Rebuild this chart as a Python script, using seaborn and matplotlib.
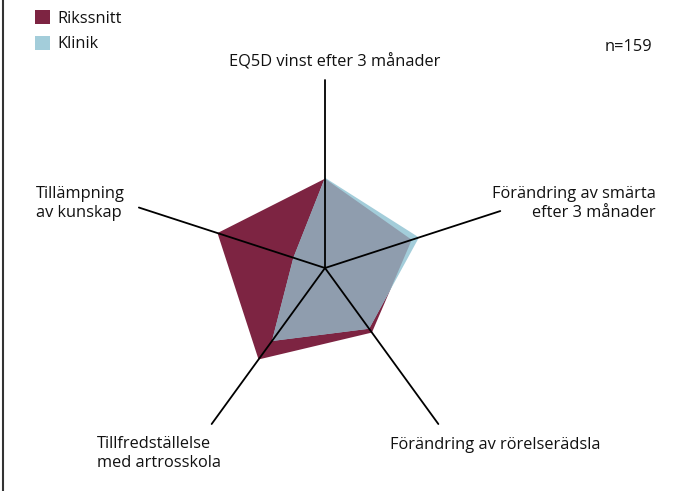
import numpy as np
import seaborn as sns
import matplotlib.pyplot as plt
from matplotlib.patches import Patch

# Data: axes clockwise from top, values on a 0-1 scale
categories = ["EQ5D vinst efter 3 månader",
              "Förändring av smärta\nefter 3 månader",
              "Förändring av rörelserädsla",
              "Tillfredställelse\nmed artrosskola",
              "Tillämpning\nav kunskap"]
rikssnitt = [0.47, 0.48, 0.42, 0.595, 0.595]
klinik = [0.475, 0.52, 0.395, 0.475, 0.175]
n_text = "n=159"

# Style
MAROON = "#7d2442"
LIGHTBLUE = "#a3cdda"
OVERLAP = "#8f9dae"
TEXT = "#111111"
FS = 11.8
spoke_len = [0.99, 0.97, 1.015, 1.015, 1.03]
# label anchor (x, y) in data units and alignment
label_pos = [(0.05, 1.085, "center", "center"),
             (1.74, 0.34, "right", "center"),
             (0.34, -0.93, "left", "center"),
             (-1.2, -0.975, "left", "center"),
             (-1.52, 0.34, "left", "center")]

sns.set_theme(style="white")
plt.rcParams["font.family"] = ["Open Sans", "DejaVu Sans"]

W, H, DPI = 674, 491, 100
fig = plt.figure(figsize=(W / DPI, H / DPI), dpi=DPI)
ax = fig.add_axes([0, 0, 1, 1])

scale = 190.0  # pixels per unit
cx, cy = 325, 268  # centre in pixels from top-left
ax.set_xlim(-cx / scale, (W - cx) / scale)
ax.set_ylim(-(H - cy) / scale, cy / scale)
ax.set_aspect("equal")
ax.axis("off")

angles = np.deg2rad(90 - 72 * np.arange(len(categories)))


def polygon(vals):
    v = np.asarray(vals)
    return v * np.cos(angles), v * np.sin(angles)


rx, ry = polygon(rikssnitt)
kx, ky = polygon(klinik)

riks_patch = ax.fill(rx, ry, color=MAROON, lw=0, zorder=1)[0]
ax.fill(kx, ky, color=LIGHTBLUE, lw=0, zorder=2)
over = ax.fill(kx, ky, color=OVERLAP, lw=0, zorder=3)[0]
over.set_clip_path(riks_patch)

# spokes
for a, L in zip(angles, spoke_len):
    ax.plot([0, L * np.cos(a)], [0, L * np.sin(a)], color="black", lw=1.3, zorder=4)

for text, (x, y, ha, va) in zip(categories, label_pos):
    ax.text(x, y, text, ha=ha, va=va, fontsize=FS, color=TEXT, linespacing=1.25)

ax.text((652 - cx) / scale, (cy - 47) / scale, n_text, ha="right", va="center",
        fontsize=FS, color=TEXT)

# left frame line
fig.add_artist(plt.Line2D([2.5 / W, 2.5 / W], [0, 1], color="#333333", lw=1.5))

handles = [Patch(facecolor=MAROON, edgecolor="none", label="Rikssnitt"),
           Patch(facecolor=LIGHTBLUE, edgecolor="none", label="Klinik")]
fig.legend(handles=handles, loc="upper left", bbox_to_anchor=(30 / W, 1 - 5 / H),
           frameon=False, fontsize=FS, handlelength=0.95, handleheight=0.95,
           handletextpad=0.4, labelspacing=0.55, borderaxespad=0, borderpad=0.3)
for t in fig.legends[0].get_texts():
    t.set_color(TEXT)

fig.savefig("out.png", dpi=DPI)
